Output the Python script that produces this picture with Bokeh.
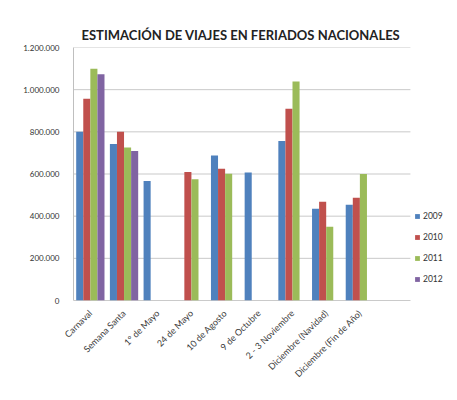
import math
from bokeh.plotting import figure
from bokeh.models import FixedTicker, Legend, LegendItem, Range1d
from bokeh.embed import file_html
from bokeh.resources import INLINE

categories = ["Carnaval", "Semana Santa", "1° de Mayo", "24 de Mayo", "10 de Agosto",
              "9 de Octubre", "2 - 3 Noviembre", "Diciembre (Navidad)", "Diciembre (Fin de Año)"]
years = ["2009", "2010", "2011", "2012"]
v2009 = [800000, 742000, 567000, None, 688000, 607000, 757000, 435000, 454000]
v2010 = [957000, 800000, None, 610000, 625000, None, 909000, 468000, 487000]
v2011 = [1099000, 726000, None, 575000, 601000, None, 1039000, 350000, 600000]
v2012 = [1073000, 709000, None, None, None, None, None, None, None]
colors = ["#4F81BD", "#C0504D", "#9BBB59", "#8064A2"]
y_ticks = [0, 200000, 400000, 600000, 800000, 1000000, 1200000]
y_labels = ["0", "200.000", "400.000", "600.000", "800.000", "1.000.000", "1.200.000"]

FONT = "Lato"
PLOT_END = 9.5  # plot area ends after 10 category slots

p = figure(width=449, height=392, output_backend="svg", toolbar_location=None,
           x_range=Range1d(-0.5, 10.66), y_range=Range1d(0, 1200000),
           min_border_left=73, min_border_right=0, min_border_top=47, min_border_bottom=92,
           title="ESTIMACIÓN DE VIAJES EN FERIADOS NACIONALES")
p.outline_line_color = None
p.background_fill_color = "white"
p.border_fill_color = "white"

p.title.align = "left"
p.title.text_font = FONT
p.title.text_font_size = "13px"
p.title.text_font_style = "bold"
p.title.text_color = "#222222"
p.title.offset = 8
p.title.standoff = 10

# gridlines limited to the plot area
p.segment(x0=[-0.5] * len(y_ticks), x1=[PLOT_END] * len(y_ticks), y0=y_ticks, y1=y_ticks,
          line_color="#c9c9c9", line_width=1)
p.segment(x0=[-0.5], x1=[PLOT_END], y0=[0], y1=[0], line_color="#b0b0b0", line_width=1)

series = [v2009, v2010, v2011, v2012]
offsets = [-0.315, -0.105, 0.105, 0.315]
items = []
for yr, vals, col, off in zip(years, series, colors, offsets):
    xs = [i + off for i, v in enumerate(vals) if v is not None]
    tops = [v for v in vals if v is not None]
    r = p.vbar(x=xs, top=tops, width=0.21, bottom=0, fill_color=col, line_color=None)
    items.append(LegendItem(label=yr, renderers=[r]))

p.xgrid.grid_line_color = None
p.ygrid.grid_line_color = None

p.yaxis.ticker = FixedTicker(ticks=y_ticks)
p.yaxis.major_label_overrides = {t: l for t, l in zip(y_ticks, y_labels)}
p.yaxis.axis_line_color = "#bfbfbf"
p.yaxis.major_tick_line_color = None
p.yaxis.minor_tick_line_color = None
p.yaxis.major_label_text_font = FONT
p.yaxis.major_label_text_font_size = "8px"
p.yaxis.major_label_text_color = "#333333"
p.yaxis.major_label_standoff = 8

p.xaxis.ticker = FixedTicker(ticks=list(range(len(categories))))
p.xaxis.major_label_overrides = {i: c for i, c in enumerate(categories)}
p.xaxis.axis_line_color = None
p.xaxis.major_tick_line_color = None
p.xaxis.minor_tick_line_color = None
p.xaxis.major_label_orientation = math.pi / 4
p.xaxis.major_label_text_font = FONT
p.xaxis.major_label_text_font_size = "9px"
p.xaxis.major_label_text_color = "#3a3a3a"
p.xaxis.major_label_standoff = 5

legend = Legend(items=items, location=(341, 11), orientation="vertical",
                glyph_width=6, glyph_height=6, label_height=20, spacing=1,
                label_text_font=FONT, label_text_font_size="8.5px", label_text_color="#333333",
                border_line_color=None, background_fill_alpha=0, padding=0, margin=0,
                label_standoff=3)
p.add_layout(legend, "center")

open("out.html", "w").write(file_html(p, INLINE))
